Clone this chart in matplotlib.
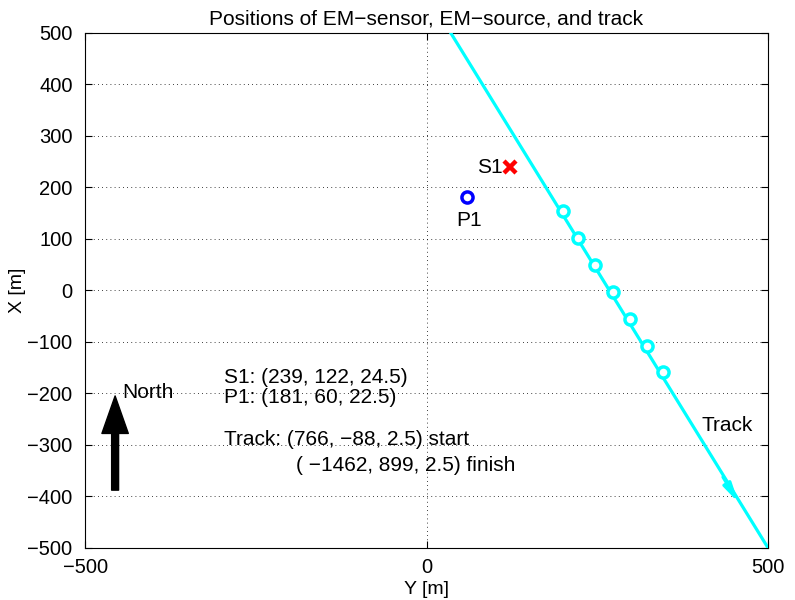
import matplotlib
matplotlib.use("Agg")
import matplotlib.pyplot as plt

plt.rcParams['font.family'] = ['Liberation Sans', 'DejaVu Sans']

# positions as (X north, Y east) in metres; plotted with Y on horizontal axis
s1_xy = (239, 122)
p1_xy = (181, 60)
track_x = [766, -500]
track_y = [-88, 500]
track_pts_x = [154, 102, 50, -3, -55, -108, -158]
track_pts_y = [200, 222, 247, 273, 298, 323, 346]
x_ticks = [-500, 0, 500]
y_ticks = list(range(-500, 501, 100))

fs = 15
fig = plt.figure(figsize=(7.95, 6.0), dpi=100)
ax = fig.add_axes([0.107, 0.087, 0.859, 0.858])

ax.plot(track_y, track_x, color='cyan', lw=2.3, zorder=3)
ax.plot(track_pts_y, track_pts_x, 'o', ms=8, mfc='white', mec='cyan', mew=2.5, zorder=4)
ax.annotate('', xy=(459, -417), xytext=(432, -358),
            arrowprops=dict(arrowstyle='-|>,head_length=1.1,head_width=0.25',
                            color='cyan', lw=2.3), zorder=4)

ax.plot(s1_xy[1], s1_xy[0], 'x', ms=9, mec='red', mew=3.2, zorder=5)
ax.plot(p1_xy[1], p1_xy[0], 'o', ms=8, mfc='white', mec='blue', mew=2.5, zorder=5)
ax.text(s1_xy[1] - 10, s1_xy[0], 'S1', fontsize=fs, ha='right', va='center')
ax.text(p1_xy[1] + 2, p1_xy[0] - 46, 'P1', fontsize=fs, ha='center', va='center')

# north arrow
ax.annotate('', xy=(-456, -205), xytext=(-456, -388),
            arrowprops=dict(facecolor='black', edgecolor='black', width=5,
                            headwidth=19, headlength=27, shrink=0))
ax.text(-445, -199, 'North', fontsize=fs, ha='left', va='center')

ax.text(-297, -170, 'S1: (239, 122, 24.5)', fontsize=fs, va='center')
ax.text(-297, -209, 'P1: (181, 60, 22.5)', fontsize=fs, va='center')
ax.text(-297, -290, 'Track: (766, \u221288, 2.5) start', fontsize=fs, va='center')
ax.text(-191, -341, '( \u22121462, 899, 2.5) finish', fontsize=fs, va='center')
ax.text(402, -262, 'Track', fontsize=fs, ha='left', va='center')

ax.set_xlim(-500, 500)
ax.set_ylim(-500, 500)
ax.set_xticks(x_ticks)
ax.set_yticks(y_ticks)
ax.set_xticklabels([f'{v:d}'.replace('-', '\u2212') for v in x_ticks])
ax.set_yticklabels([f'{v:d}'.replace('-', '\u2212') for v in y_ticks])
ax.tick_params(direction='in', top=True, right=True, labelsize=14.5, length=5)
ax.tick_params(axis='y', pad=9)
ax.tick_params(axis='x', pad=7)
ax.grid(True, color='black', linestyle=(0, (1, 4)), lw=0.6)
ax.set_axisbelow(True)
for sp in ax.spines.values():
    sp.set_linewidth(0.8)

ax.set_xlabel('Y [m]', fontsize=14, labelpad=3)
ax.set_ylabel('X [m]', fontsize=14, labelpad=1)
ax.set_title('Positions of EM\u2212sensor, EM\u2212source, and track', fontsize=fs, pad=6)

fig.savefig('out.png', dpi=100)
